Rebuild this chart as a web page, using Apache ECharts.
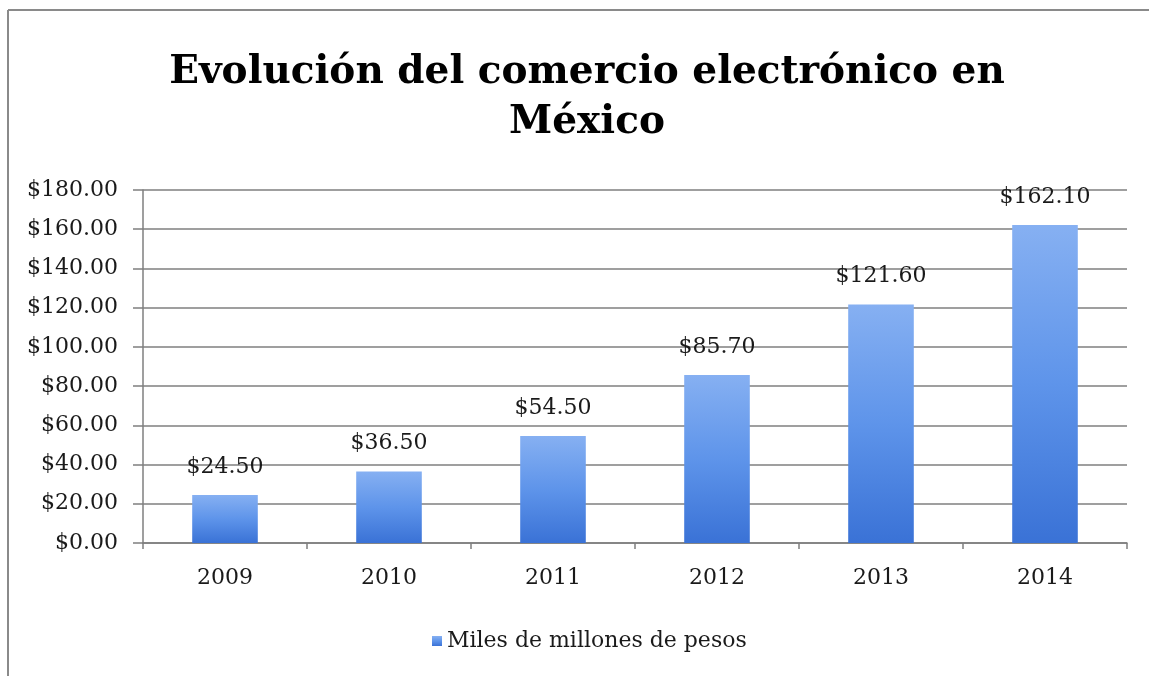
<!DOCTYPE html>
<html>
<head>
<meta charset="utf-8">
<title>Evolución del comercio electrónico en México</title>
<script src="https://cdn.jsdelivr.net/npm/echarts@6/dist/echarts.min.js"></script>
<style>
  html, body { margin: 0; padding: 0; background: #ffffff; }
  #chart { width: 1149px; height: 676px; }
</style>
</head>
<body>
<div id="chart"></div>
<script>
// Annual e-commerce volume in Mexico (billions of pesos)
const years = ['2009', '2010', '2011', '2012', '2013', '2014'];
const amounts = [24.5, 36.5, 54.5, 85.7, 121.6, 162.1];
const seriesName = 'Miles de millones de pesos';
const titleText = 'Evolución del comercio electrónico en\nMéxico';

const serif = '"DejaVu Serif", "Liberation Serif", serif';
const gridGray = '#7f7f7f';
const textColor = '#1a1a1a';

const barFill = new echarts.graphic.LinearGradient(0, 0, 0, 1, [
  { offset: 0, color: '#86b0f2' },
  { offset: 0.5, color: '#5e94ea' },
  { offset: 1, color: '#3a72d6' }
]);

const chart = echarts.init(document.getElementById('chart'), null, { renderer: 'canvas' });

chart.setOption({
  backgroundColor: '#ffffff',
  animation: false,
  title: {
    text: titleText,
    left: 582,
    top: 43,
    textAlign: 'center',
    textStyle: {
      fontFamily: serif,
      fontWeight: 'bold',
      fontSize: 39,
      lineHeight: 50,
      color: '#000000'
    }
  },
  legend: {
    data: [seriesName],
    left: 427,
    top: 625,
    itemWidth: 10,
    itemHeight: 10,
    itemGap: 6,
    icon: 'rect',
    textStyle: { fontFamily: serif, fontSize: 22, color: textColor }
  },
  grid: { left: 143, right: 22, top: 190, bottom: 133, containLabel: false },
  xAxis: {
    type: 'category',
    data: years,
    axisLine: { show: true, lineStyle: { color: gridGray, width: 1.5 } },
    axisTick: { show: true, length: 6, lineStyle: { color: gridGray, width: 1.5 } },
    axisLabel: { margin: 24, fontFamily: serif, fontSize: 22, color: textColor }
  },
  yAxis: {
    type: 'value',
    min: 0,
    max: 180,
    interval: 20,
    axisLine: { show: true, lineStyle: { color: gridGray, width: 1.5 } },
    axisTick: { show: true, length: 10, lineStyle: { color: gridGray, width: 1.5 } },
    axisLabel: {
      margin: 25,
      fontFamily: serif,
      fontSize: 22,
      color: textColor,
      formatter: v => '$' + v.toFixed(2)
    },
    splitLine: { show: true, lineStyle: { color: gridGray, width: 1.5 } }
  },
  series: [{
    name: seriesName,
    type: 'bar',
    data: amounts,
    barWidth: '40%',
    itemStyle: { color: barFill },
    label: {
      show: true,
      position: 'top',
      distance: 17,
      fontFamily: serif,
      fontSize: 22,
      color: textColor,
      formatter: p => '$' + p.value.toFixed(2)
    }
  }],
  graphic: [
    // frame around the chart area
    { type: 'line', shape: { x1: 8, y1: 10, x2: 1149, y2: 10 }, style: { stroke: '#8a8a8a', lineWidth: 2 } },
    { type: 'line', shape: { x1: 8, y1: 10, x2: 8, y2: 676 }, style: { stroke: '#8a8a8a', lineWidth: 2 } }
  ]
});
</script>
</body>
</html>
